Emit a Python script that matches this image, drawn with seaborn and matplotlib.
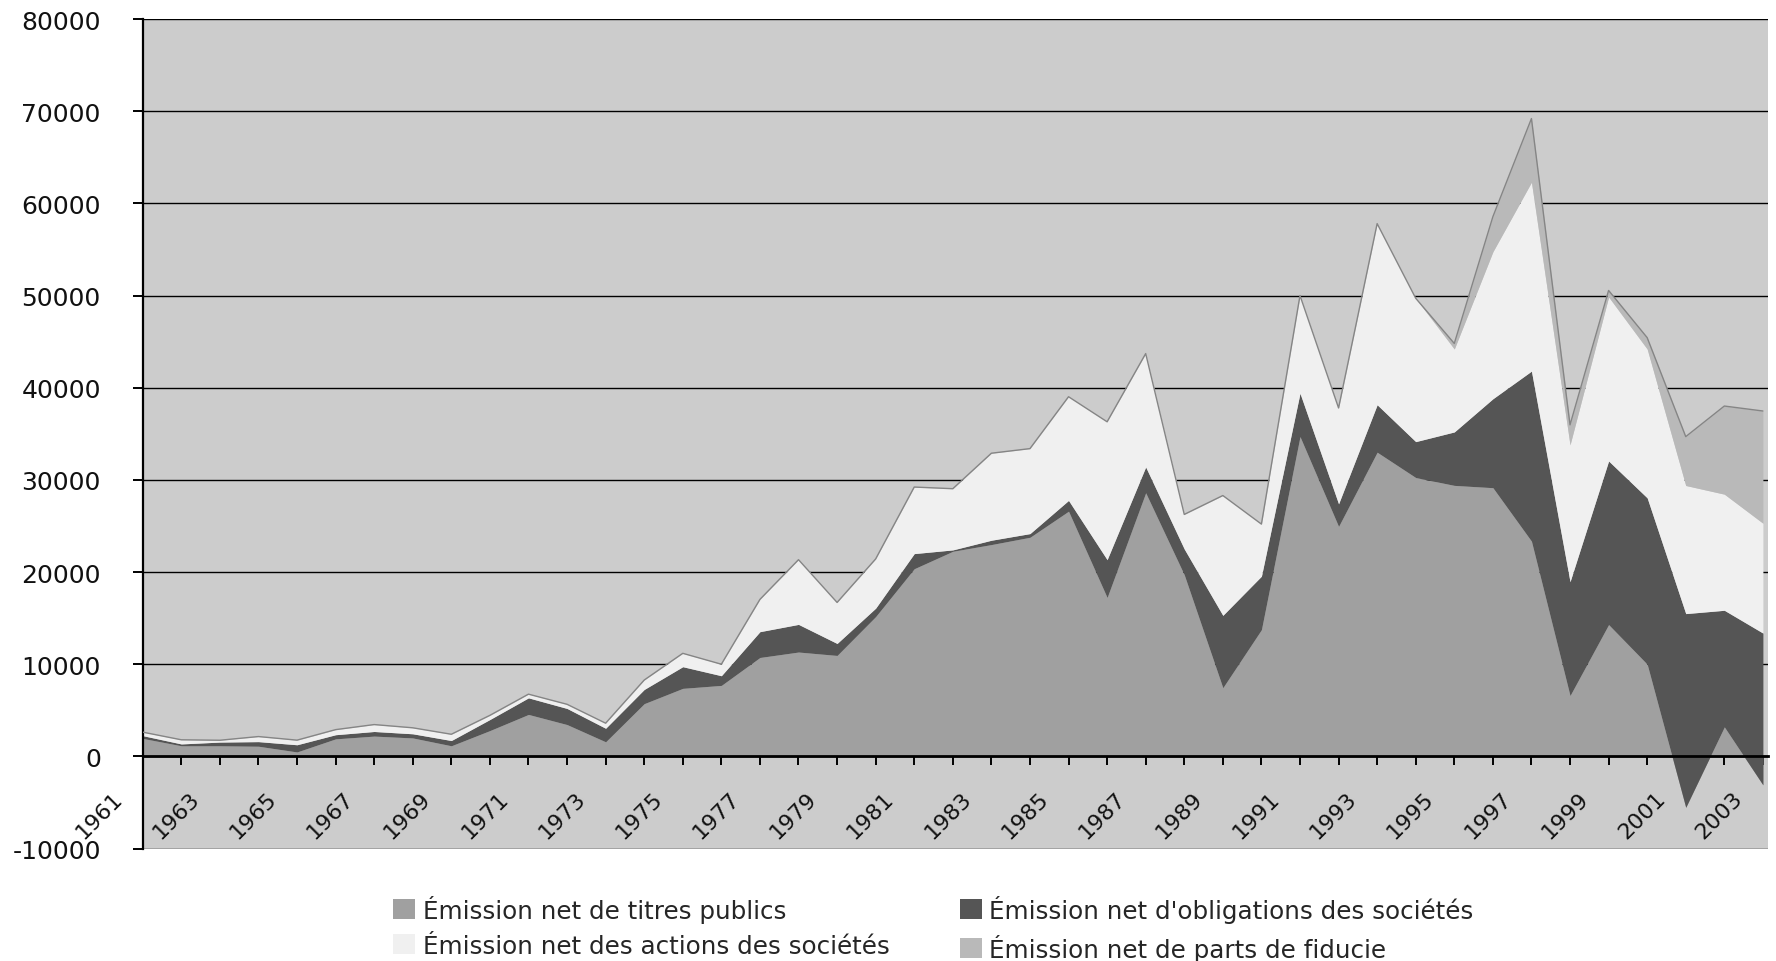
import matplotlib
matplotlib.use("Agg")
import matplotlib.pyplot as plt
import matplotlib.transforms as mtransforms
from matplotlib.patches import Patch
import numpy as np
import pandas as pd
import seaborn as sns

# Émissions nettes annuelles (millions de dollars), 1961-2003
annees = list(range(1961, 2004))

titres_publics = [
    1950, 1150, 1150, 1100, 480, 1900, 2200, 2000, 1150, 2800,
    4550, 3450, 1580, 5720, 7380, 7700, 10730, 11320, 10950, 15170,
    20360, 22250, 22980, 23770, 26600, 17240, 28600, 19700, 7450, 13750,
    34700, 24950, 33000, 30250, 29400, 29150, 23350, 6600, 14300, 10000,
    -5530, 3200, -3090,
]
obligations_societes = [
    300, 200, 400, 500, 780, 450, 500, 450, 570, 1200,
    1800, 1750, 1470, 1540, 2350, 1050, 2800, 3000, 1300, 910,
    1640, 150, 470, 400, 1170, 4100, 2800, 2800, 7850, 5800,
    4700, 2450, 5150, 3900, 5800, 9650, 18450, 12350, 17750, 18050,
    21020, 12650, 16470,
]
actions_societes = [
    380, 450, 200, 550, 500, 550, 750, 650, 680, 450,
    400, 450, 550, 1020, 1450, 1250, 3500, 7020, 4450, 5340,
    7220, 6640, 9440, 9220, 11250, 14960, 12300, 3750, 13000, 5650,
    10600, 10400, 19650, 15550, 9000, 15950, 20500, 14850, 17800, 16150,
    13900, 12600, 11920,
]
parts_fiducie = [
    0, 0, 0, 0, 0, 0, 0, 0, 0, 0,
    0, 0, 0, 0, 0, 0, 0, 0, 0, 0,
    0, 0, 0, 0, 0, 0, 0, 0, 0, 0,
    0, 0, 0, 0, 600, 3800, 6900, 2170, 700, 1230,
    5300, 9560, 12170,
]

series_labels = [
    "Émission net de titres publics",
    "Émission net d'obligations des sociétés",
    "Émission net des actions des sociétés",
    "Émission net de parts de fiducie",
]
series_colors = ["#a0a0a0", "#555555", "#f0f0f0", "#b9b9b9"]

y_ticks = list(range(-10000, 80001, 10000))

df = pd.DataFrame({
    "annee": annees,
    "publics": titres_publics,
    "obligations": obligations_societes,
    "actions": actions_societes,
    "fiducie": parts_fiducie,
})
df["total"] = df[["publics", "obligations", "actions", "fiducie"]].sum(axis=1)

sns.set_theme(style="white")
plt.rcParams["font.family"] = ["DejaVu Sans"]
plt.rcParams["axes.unicode_minus"] = False

fig = plt.figure(figsize=(17.76, 9.62), dpi=100)
ax = fig.add_axes([0.08035, 0.1169, 0.9151, 0.8623])
ax.set_facecolor("#cccccc")
ax.set_axisbelow(True)

ax.stackplot(
    df["annee"], df["publics"], df["obligations"], df["actions"], df["fiducie"],
    colors=series_colors, linewidth=0, zorder=2,
)
sns.lineplot(data=df, x="annee", y="total", color="#858585", linewidth=1.0,
             ax=ax, legend=False, zorder=3)

ax.set_xlim(1961, 2003.13)
ax.set_ylim(-10000, 80000)
ax.set_xlabel("")
ax.set_ylabel("")

# Axe des valeurs
ax.set_yticks(y_ticks)
ax.set_yticklabels([str(v) for v in y_ticks], fontsize=18, color="#111111")
ax.yaxis.grid(True, color="black", linewidth=1.0)
ax.xaxis.grid(False)
ax.tick_params(axis="y", left=True, direction="out", length=7.2, width=1.4,
               pad=23, color="black")

# Axe des catégories croisant à zéro
for side in ("top", "right"):
    ax.spines[side].set_visible(False)
ax.spines["left"].set_color("black")
ax.spines["left"].set_linewidth(1.6)
ax.spines["bottom"].set_position(("data", 0))
ax.spines["bottom"].set_color("black")
ax.spines["bottom"].set_linewidth(2.0)
ax.spines["bottom"].set_zorder(4)

ax.set_xticks(annees)
ax.set_xticklabels([str(a) if (a - 1961) % 2 == 0 else "" for a in annees],
                   fontsize=16, color="#111111", rotation=45,
                   ha="right", va="top")
ax.tick_params(axis="x", bottom=True, direction="out", length=6.5, width=1.4,
               pad=16, color="black")
shift = mtransforms.ScaledTranslation(-0.165, 0.0, fig.dpi_scale_trans)
for lab in ax.get_xticklabels():
    lab.set_transform(lab.get_transform() + shift)

# Légende sur deux colonnes sous le graphique
handles = [Patch(facecolor=c, edgecolor="none", label=l)
           for c, l in zip(series_colors, series_labels)]
order = [0, 2, 1, 3]
fig.legend(handles=[handles[i] for i in order], ncol=2, loc="upper left",
           bbox_to_anchor=(0.2213, 0.0690), frameon=False, fontsize=17.7,
           handlelength=0.9, handleheight=0.9, handletextpad=0.3,
           columnspacing=2.87, labelspacing=0.45, borderaxespad=0,
           borderpad=0)

fig.savefig("out.png", dpi=100, facecolor="white")
